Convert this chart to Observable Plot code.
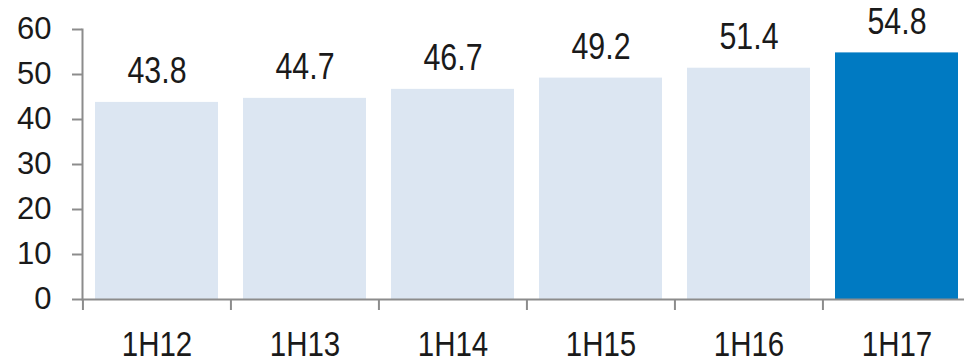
<!DOCTYPE html>
<html>
<head>
<meta charset="utf-8">
<script src="https://cdn.jsdelivr.net/npm/d3@7"></script>
<script src="https://cdn.jsdelivr.net/npm/@observablehq/plot@0.6"></script>
<style>
  body { margin: 0; background: #fff; }
</style>
</head>
<body>
<div id="chart"></div>
<script>
// Half-year periods and their values
const periods = ["1H12", "1H13", "1H14", "1H15", "1H16", "1H17"];
const values = [43.8, 44.7, 46.7, 49.2, 51.4, 54.8];
const highlighted = "1H17";
const yTicks = [0, 10, 20, 30, 40, 50, 60];

const data = periods.map((period, i) => ({period, value: values[i]}));

const lightBlue = "#dce6f2";
const darkBlue = "#007ac2";
const axisGray = "#8c8c8c";
const ink = "#1a1a1a";
const font = '"Liberation Sans", Arial, sans-serif';
const narrow = 0.82; // horizontal squeeze for a condensed look

// Band layout: the last band runs slightly past the right edge
const xRange = [82, 971];
const padInner = 0.167;
const padOuter = 0.084;
const step = (xRange[1] - xRange[0]) / (periods.length - padInner + 2 * padOuter);

const chart = Plot.plot({
  width: 964,
  height: 361,
  marginLeft: 82,
  marginRight: 0,
  marginTop: 29,
  marginBottom: 62,
  style: {fontFamily: font, color: ink, background: "#fff", overflow: "visible"},
  x: {domain: periods, range: xRange, paddingInner: padInner, paddingOuter: padOuter, axis: null},
  y: {domain: [0, 60], axis: null},
  color: {type: "identity"},
  marks: [
    Plot.barY(data, {
      x: "period",
      y: "value",
      fill: d => d.period === highlighted ? darkBlue : lightBlue
    }),
    // value axis
    Plot.frame({anchor: "left", stroke: axisGray, strokeWidth: 2}),
    Plot.axisY(yTicks, {
      anchor: "left",
      tickSize: 10,
      tickPadding: 21,
      fontSize: 31,
      stroke: axisGray,
      strokeWidth: 2,
      fill: ink,
      label: null
    }),
    // category axis
    Plot.ruleY([0], {stroke: axisGray, strokeWidth: 2}),
    Plot.ruleX(periods, {
      x: d => d,
      dx: -step / 2,
      y1: 0,
      y2: 0,
      insetBottom: -11,
      stroke: axisGray,
      strokeWidth: 2
    }),
    Plot.axisX(periods, {
      anchor: "bottom",
      tickSize: 0,
      tickPadding: 31,
      fontSize: 36,
      fill: ink,
      label: null
    }),
    // value labels above bars
    Plot.text(data, {
      x: "period",
      y: "value",
      text: d => d.value.toFixed(1),
      dy: -19,
      lineAnchor: "bottom",
      fontSize: 37,
      fill: ink
    })
  ]
});

// Squeeze the category and value labels horizontally about their anchors
chart.querySelectorAll('[aria-label="text"] text, [aria-label="x-axis tick label"] text').forEach(el => {
  const x = +el.getAttribute("x") || 0;
  const t = el.getAttribute("transform") || "";
  el.setAttribute("transform", `${t} translate(${x},0) scale(${narrow},1) translate(${-x},0)`);
});

document.getElementById("chart").append(chart);
</script>
</body>
</html>
